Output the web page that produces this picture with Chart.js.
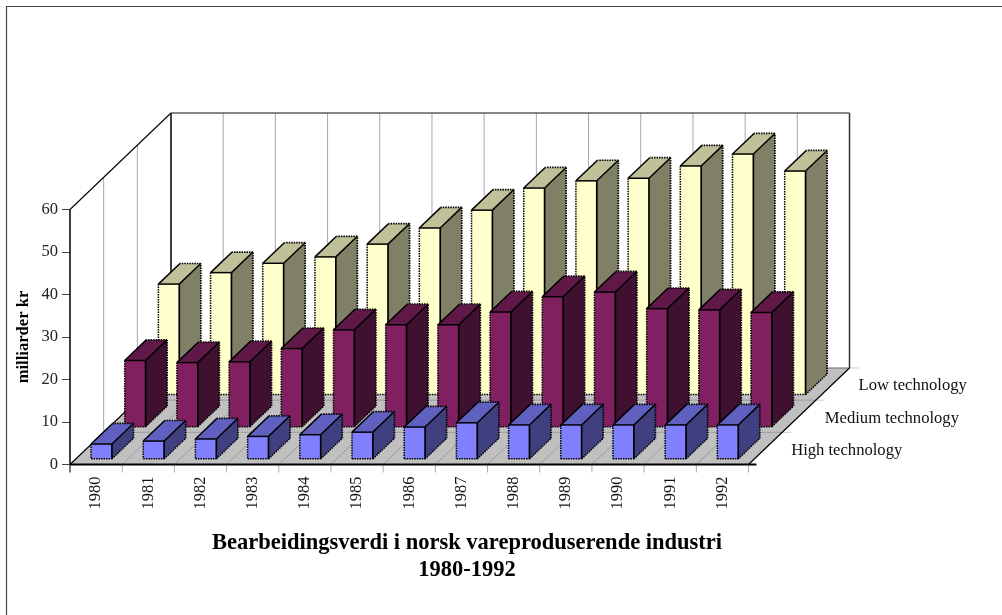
<!DOCTYPE html>
<html><head><meta charset="utf-8">
<style>html,body{margin:0;padding:0;background:#fff}canvas{display:block}</style>
<script src="https://cdn.jsdelivr.net/npm/chart.js@4"></script>
</head><body><canvas id="c" width="1002" height="615"></canvas>
<script>
const categories = ['1980','1981','1982','1983','1984','1985','1986','1987','1988','1989','1990','1991','1992'];
const highTech = [3.6,4.3,4.8,5.4,5.8,6.4,7.6,8.6,8.1,8.1,8.1,8.1,8.1];
const mediumTech = [15.7,15.2,15.4,18.5,22.9,24.1,24.1,27.1,30.7,31.8,27.9,27.6,27.0];
const lowTech = [26.1,28.8,31.0,32.5,35.5,39.3,43.5,48.7,50.4,51.0,53.9,56.7,52.7];
const yTicks = [0,10,20,30,40,50,60];
const titleLines = ['Bearbeidingsverdi i norsk vareproduserende industri','1980-1992'];

const SERIF = '"Liberation Serif","Times New Roman",serif';
const DEPTH = {x:101, y:-96.5};
const ROWS = 3;
const BAR_DEPTH = 0.64;
const ROW_GAP = 0.16;
const faces = [
  {front:'#8080FF', side:'#404080', top:'#6060C0'},
  {front:'#802060', side:'#401030', top:'#601848'},
  {front:'#FFFFCC', side:'#808066', top:'#C0C099'}
];
function line(ctx,x1,y1,x2,y2,color,w,dash){
  ctx.save();ctx.beginPath();ctx.strokeStyle=color;ctx.lineWidth=w;ctx.setLineDash(dash||[]);
  ctx.moveTo(x1,y1);ctx.lineTo(x2,y2);ctx.stroke();ctx.restore();
}
function poly(ctx,pts,fill){
  ctx.beginPath();pts.forEach((p,i)=>i?ctx.lineTo(p[0],p[1]):ctx.moveTo(p[0],p[1]));ctx.closePath();
  ctx.fillStyle=fill;ctx.fill();
}
function rowOffset(i){
  const f=(i+ROW_GAP)/ROWS;
  return {x:DEPTH.x*f,y:DEPTH.y*f};
}
const box3d = {
  id:'box3d',
  afterLayout(chart){
    const tb=chart.titleBlock;
    const w=tb.right-tb.left;
    tb.left=467-w/2;tb.right=467+w/2;
  },
  beforeDatasetsDraw(chart){
    const {ctx,chartArea:a}=chart;
    const L=a.left,R=a.right,B=a.bottom,T=a.top,dx=DEPTH.x,dy=DEPTH.y;
    // page edge lines (top and left only)
    line(ctx,6,6.5,1002,6.5,'#444',1.2);
    line(ctx,6.5,6,6.5,615,'#444',1.2);
    // floor
    poly(ctx,[[L,B],[R,B],[R+dx,B+dy],[L+dx,B+dy]],'#C0C0C0');
    const step=(R-L)/categories.length;
    for(let i=0;i<=categories.length;i++){
      const px=L+i*step;
      if(i>0&&i<categories.length) line(ctx,px+dx,T+dy,px+dx,B+dy,'#A8A8A8',1);
      if(i>0&&i<categories.length) line(ctx,px,B,px+dx,B+dy,'#9C9C9C',1);
      if(i>0) line(ctx,px,B,px,B+8,'#A8A8A8',1);
    }
    line(ctx,L,B,L,B+8,'#222',1.2);
    for(let r=1;r<=ROWS;r++){
      const f=r/ROWS,fx=L+dx*f,fy=B+dy*f,tx=T+dy*f;
      if(r<ROWS){
        line(ctx,fx,fy,fx,tx,'#A8A8A8',1);
        line(ctx,fx,fy,R+dx*f,fy,'#9C9C9C',1);
      }
      line(ctx,R+dx*f,fy,R+dx*f+9,fy,'#CCCCCC',1);
    }
    line(ctx,L,T,L+dx,T+dy,'#000',1.1);
    line(ctx,L+dx,T+dy,R+dx,T+dy,'#111',1.2);
    line(ctx,L+dx,T+dy,L+dx,B+dy,'#111',1.6);
    line(ctx,R+dx,T+dy,R+dx,B+dy,'#333',1.5);
    line(ctx,L+dx,B+dy,R+dx,B+dy,'#666',1);
    line(ctx,L,B,L+dx,B+dy,'#000',1.1);
    line(ctx,R,B,R+dx,B+dy,'#000',1.2);
    line(ctx,L,T,L,B,'#000',1.5);
    ctx.save();ctx.fillStyle='#111';ctx.font='16.6px '+SERIF;ctx.textAlign='left';ctx.textBaseline='middle';
    chart.data.datasets.forEach((d,i)=>{
      const f=(i+1)/ROWS;
      ctx.fillText(d.label,R+dx*f+9,B+dy*f+18);
    });
    ctx.restore();
  },
  beforeDatasetDraw(chart,{index}){
    const ctx=chart.ctx,o=rowOffset(index),ox=DEPTH.x*BAR_DEPTH/ROWS,oy=DEPTH.y*BAR_DEPTH/ROWS,c=faces[index];
    chart.getDatasetMeta(index).data.forEach(b=>{
      const r=b.x+b.width/2+o.x,l=b.x-b.width/2+o.x,t=b.y+o.y,bt=b.base+o.y;
      poly(ctx,[[r,bt],[r+ox,bt+oy],[r+ox,t+oy],[r,t]],c.side);
      poly(ctx,[[l,t],[r,t],[r+ox,t+oy],[l+ox,t+oy]],c.top);
    });
    ctx.save();ctx.translate(o.x,o.y);
  },
  afterDatasetDraw(chart,{index}){
    const ctx=chart.ctx;ctx.restore();
    const o=rowOffset(index),ox=DEPTH.x*BAR_DEPTH/ROWS,oy=DEPTH.y*BAR_DEPTH/ROWS;
    chart.getDatasetMeta(index).data.forEach(b=>{
      const l=b.x-b.width/2+o.x,r=b.x+b.width/2+o.x,t=b.y+o.y,bt=b.base+o.y,K='#000',D=[1.5,1];
      line(ctx,l,t,l,bt,K,1.5,D);
      line(ctx,l,bt,r,bt,K,1.5,D);
      line(ctx,r,bt,r+ox,bt+oy,K,1.5,D);
      line(ctx,r+ox,bt+oy,r+ox,t+oy,K,1.7,D);
      line(ctx,r+ox,t+oy,l+ox,t+oy,K,1.7,D);
      line(ctx,l,t,l+ox,t+oy,K,1.5);
      line(ctx,l,t,r,t,K,1.5);
      line(ctx,r,t,r,bt,K,1.7);
      line(ctx,r,t,r+ox,t+oy,K,1.5);
    });
  },
  afterDatasetsDraw(chart){
    const {ctx,chartArea:a}=chart;
    line(ctx,a.left,a.bottom,a.right+8,a.bottom,'#000',1.8);
  }
};
const mk=(label,data,i)=>({label,data,backgroundColor:faces[i].front,borderWidth:0,clip:false,grouped:false,categoryPercentage:0.4,barPercentage:1});
new Chart(document.getElementById('c'),{
  type:'bar',
  data:{labels:categories,datasets:[mk('High technology',highTech,0),mk('Medium technology',mediumTech,1),mk('Low technology',lowTech,2)]},
  plugins:[box3d],
  options:{
    responsive:false,animation:false,
    layout:{padding:{left:14,right:253.5,top:209.5,bottom:31.5}},
    plugins:{
      legend:{display:false},tooltip:{enabled:false},
      title:{display:true,position:'bottom',text:titleLines,color:'#000',padding:0,font:{family:SERIF,size:22.5,weight:'bold',lineHeight:1.2}}
    },
    scales:{
      x:{
        afterFit(s){s.height=65;},
        grid:{display:true,drawOnChartArea:false,drawTicks:true,tickLength:8,offset:true,color:'#000',lineWidth:0},
        border:{display:false},
        ticks:{color:'#111',minRotation:90,maxRotation:90,padding:4,font:{family:SERIF,size:16.5}}
      },
      y:{
        min:0,max:60,
        afterFit(s){s.width=56;},
        afterBuildTicks(s){s.ticks=yTicks.map(v=>({value:v}));},
        grid:{display:true,drawOnChartArea:false,drawTicks:true,tickLength:8,color:'#444',lineWidth:1},
        border:{display:false},
        ticks:{color:'#222',padding:4,font:{family:SERIF,size:16.5}},
        title:{display:true,text:'milliarder kr',color:'#000',padding:{top:0,bottom:0},font:{family:SERIF,size:16.6,weight:'bold'}}
      }
    }
  }
});
</script></body></html>
